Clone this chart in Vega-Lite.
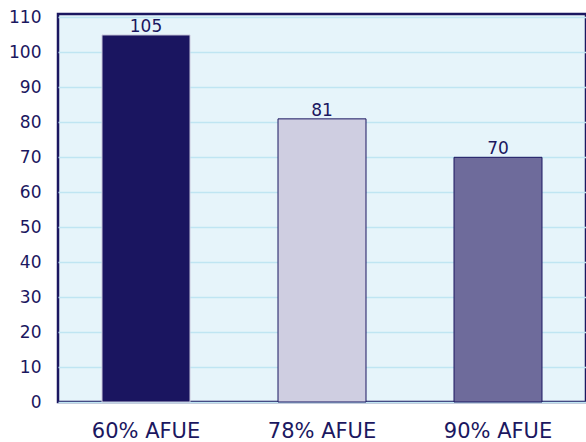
{
  "$schema": "https://vega.github.io/schema/vega-lite/v6.json",
  "width": 528,
  "height": 388,
  "autosize": {"type": "none"},
  "padding": {"left": 58, "top": 14, "right": 0, "bottom": 40},
  "background": "#ffffff",
  "config": {
    "view": {"stroke": "#1b1760", "strokeWidth": 2.5, "fill": "#e6f4fa"},
    "font": "DejaVu Sans"
  },
  "data": {
    "values": [
      {"type": "60% AFUE", "value": 105},
      {"type": "78% AFUE", "value": 81},
      {"type": "90% AFUE", "value": 70}
    ]
  },
  "encoding": {
    "x": {
      "field": "type",
      "type": "nominal",
      "sort": null,
      "scale": {"paddingInner": 0.5, "paddingOuter": 0.25},
      "axis": {
        "title": null,
        "labelAngle": 0,
        "ticks": false,
        "domain": false,
        "labelFontSize": 21,
        "labelColor": "#1b1760",
        "labelPadding": 18,
        "grid": false
      }
    },
    "y": {
      "field": "value",
      "type": "quantitative",
      "scale": {"domain": [0, 111], "nice": false},
      "axis": {
        "title": null,
        "values": [0, 10, 20, 30, 40, 50, 60, 70, 80, 90, 100, 110],
        "ticks": false,
        "domain": false,
        "labelFontSize": 17,
        "labelColor": "#1b1760",
        "labelPadding": 17,
        "gridColor": "#bfe5f2",
        "gridWidth": 1.5
      }
    }
  },
  "layer": [
    {
      "mark": {"type": "bar", "strokeWidth": 1},
      "encoding": {
        "color": {
          "field": "type",
          "type": "nominal",
          "scale": {"range": ["#1a1560", "#cfcee1", "#6e6b9b"]},
          "legend": null
        },
        "stroke": {
          "field": "type",
          "type": "nominal",
          "scale": {"range": ["#c9c8dc", "#1b1760", "#1b1760"]},
          "legend": null
        }
      }
    },
    {
      "mark": {"type": "text", "baseline": "alphabetic", "dy": -3, "fontSize": 17, "color": "#1b1760"},
      "encoding": {"text": {"field": "value", "type": "quantitative"}}
    }
  ]
}
